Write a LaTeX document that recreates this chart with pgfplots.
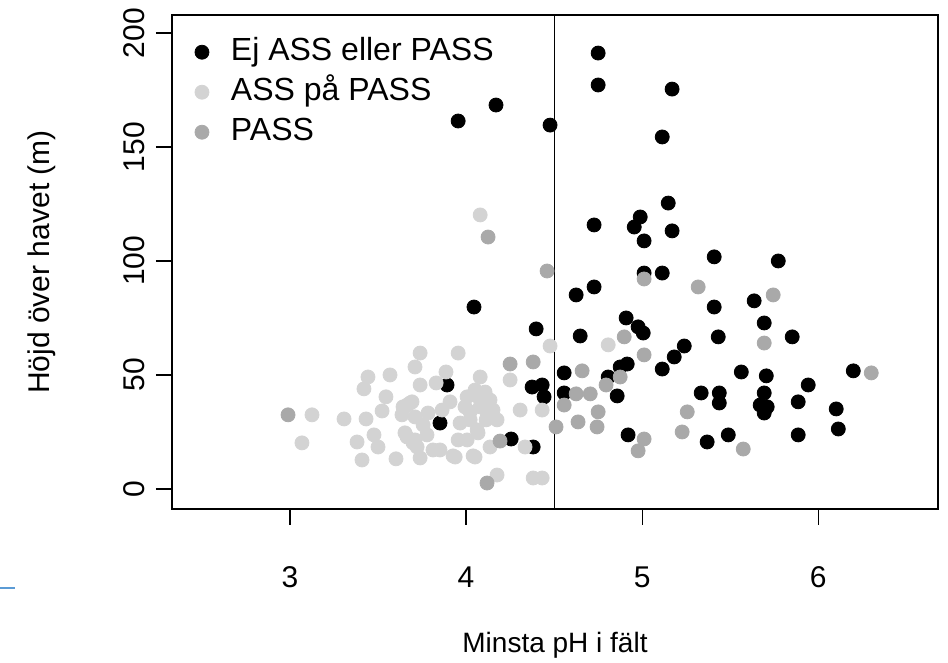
\documentclass[border=0pt]{standalone}
\usepackage{fontspec}
\setmainfont{Liberation Sans}
\usepackage{pgfplots}
\pgfplotsset{compat=1.18}
\definecolor{lgray}{HTML}{D3D3D3}
\definecolor{dgray}{HTML}{A9A9A9}
\definecolor{bluemark}{RGB}{91,155,213}
\newcommand{\fs}{\fontsize{15}{18}\selectfont}
\begin{document}
\begin{tikzpicture}
\useasboundingbox (-86pt,-77pt) rectangle (388pt,254.5pt);
\draw[bluemark, line width=1pt] (-86pt,-39.5pt) -- (-78.5pt,-39.5pt);
\begin{axis}[
  at={(0pt,0pt)}, anchor=south west,
  scale only axis, width=383pt, height=247pt,
  xmin=2.33, xmax=6.68, ymin=-8.8, ymax=207.9,
  xtick={3,4,5,6}, ytick={0,50,100,150,200},
  xtick pos=left, ytick pos=left,
  tick align=outside, major tick length=8pt,
  tick style={black, line width=0.6pt},
  axis line style={black, line width=0.8pt},
  /pgf/number format/assume math mode=true,
  ticklabel style={font=\fs},
  xticklabel style={anchor=center, yshift=-26pt},
  yticklabel style={rotate=90, anchor=center, yshift=11pt},
  xlabel={Minsta pH i fält},
  ylabel={Höjd över havet (m)},
  xlabel style={font=\fontsize{14}{17}\selectfont, at={(axis description cs:0.5,0)}, anchor=center, yshift=-68pt},
  ylabel style={font=\fs, at={(axis description cs:0,0.5)}, anchor=center, yshift=65pt},
  legend style={at={(axis description cs:0.030,0.954)}, anchor=north west,
    draw=none, fill=none, inner sep=0pt, outer sep=0pt, row sep=5.5pt, column sep=11pt,
    font=\fontsize{16}{19}\selectfont, nodes={inner sep=0pt, text height=11.5pt, text depth=3pt}},
  legend cell align=left,
  legend image code/.code={\draw[#1] plot coordinates {(0pt,0pt)};},
]
\addplot[only marks, mark=*, mark size=3.5pt, color=black] coordinates {
(3.955,161.4) (4.170,168.4) (4.477,159.6) (4.750,191.2) (4.750,177.2) (5.170,175.4)
(5.114,154.4) (5.148,125.4) (4.727,115.8) (4.989,119.3) (4.955,114.9) (5.011,108.8)
(5.170,113.2) (5.409,101.8) (5.773,100.0) (5.636,82.5) (5.693,72.8) (5.852,66.7)
(5.563,51.3) (5.705,49.6) (5.693,42.1) (5.943,45.6) (5.886,38.2) (6.199,51.8)
(5.670,36.8) (5.710,36.0) (5.693,33.3) (6.102,35.1) (6.114,26.3) (5.886,23.7)
(5.409,79.8) (5.432,66.7) (5.011,94.7) (5.114,94.7) (4.727,88.6) (4.625,85.1)
(4.909,75.0) (4.977,71.1) (5.006,68.4) (4.648,67.1) (5.239,62.7) (5.182,57.9)
(5.114,52.6) (4.915,54.8) (4.875,53.5) (4.557,50.9) (4.807,49.1) (4.557,42.1)
(4.858,40.8) (5.335,42.1) (5.438,42.1) (5.438,37.7) (4.920,23.7) (5.369,20.6)
(5.489,23.7) (4.398,70.2) (4.375,44.7) (4.432,45.6) (4.443,40.4) (3.892,45.6)
(3.852,28.9) (4.256,21.9) (4.381,18.4) (4.045,79.8)
};
\addlegendentry{Ej ASS eller PASS}
\addplot[only marks, mark=*, mark size=3.5pt, color=lgray] coordinates {
(4.080,120.2) (4.477,62.7) (4.807,63.2) (4.432,34.6) (4.432,4.8) (4.381,4.8)
(4.250,47.8) (3.739,59.6) (3.955,59.6) (3.886,51.3) (4.080,49.1) (3.830,46.5)
(3.739,45.6) (3.710,53.5) (4.307,34.6) (3.693,38.2) (3.909,38.2) (3.864,34.6)
(3.710,31.6) (3.966,28.9) (4.063,25.9) (3.955,21.5) (4.006,21.5) (4.136,18.4)
(3.926,14.5) (4.040,14.5) (4.335,18.4) (4.176,6.1) (4.176,30.3) (3.125,32.5)
(3.068,20.2) (3.307,30.7) (3.432,30.7) (3.381,20.6) (3.477,23.7) (3.500,18.4)
(3.409,12.7) (3.602,13.2) (3.443,49.1) (3.420,43.9) (3.568,50.0) (3.545,40.4)
(3.523,34.2) (3.636,32.5) (3.665,36.8) (3.653,24.6) (3.699,20.2) (3.682,37.7)
(3.642,36.0) (3.665,22.8) (3.710,21.5) (3.778,23.7) (3.722,18.4) (3.812,17.1)
(3.739,13.6) (3.852,17.1) (3.938,14.0) (4.051,14.0) (4.068,24.6) (4.006,40.4)
(4.068,40.4) (4.136,39.0) (3.994,36.0) (4.080,36.0) (4.153,34.6) (4.023,33.8)
(4.119,33.3) (4.051,43.4) (4.108,42.5) (4.023,30.3) (4.114,30.3) (3.756,28.1)
(3.784,33.3)
};
\addlegendentry{ASS på PASS}
\addplot[only marks, mark=*, mark size=3.5pt, color=dgray] coordinates {
(2.989,32.5) (4.125,110.5) (4.460,95.6) (5.011,92.1) (5.318,88.6) (5.744,85.1)
(5.693,64.0) (6.301,50.9) (5.574,17.5) (4.898,66.7) (5.011,58.8) (4.659,51.8)
(4.875,49.1) (4.795,45.6) (4.625,41.7) (4.705,41.7) (4.557,36.8) (4.750,33.8)
(5.256,33.8) (4.636,29.4) (4.744,27.2) (4.511,27.2) (5.227,25.0) (5.011,21.9)
(4.977,16.7) (4.250,54.8) (4.381,55.7) (4.193,21.0) (4.119,2.6)
};
\addlegendentry{PASS}
\addplot[black, line width=0.6pt, forget plot] coordinates {(4.5,-20) (4.5,230)};
\end{axis}
\end{tikzpicture}
\end{document}
